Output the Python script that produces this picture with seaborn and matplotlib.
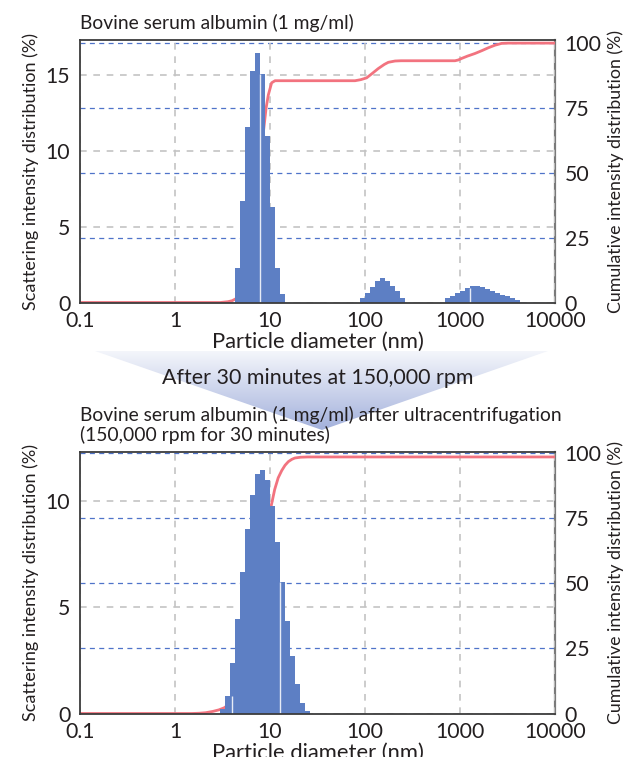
import numpy as np
import matplotlib
matplotlib.use("Agg")
import matplotlib.pyplot as plt
from matplotlib.patches import Polygon
from matplotlib.colors import LinearSegmentedColormap
import seaborn as sns

# ---- data -------------------------------------------------------------
# Size bins are logarithmic, 19 bins per decade; values are bin centres (nm)
BINS_PER_DECADE = 19

before_diam = [4.549, 5.135, 5.798, 6.545, 7.388, 8.340, 9.412, 10.63, 11.99, 13.54,
               94.12, 106.2, 119.9, 135.4, 152.8, 172.5, 194.8, 219.8, 248.1,
               738.8, 834.0, 941.2, 1063, 1199, 1354, 1528, 1725, 1948, 2198,
               2481, 2801, 3162, 3569, 4030]
before_int = [2.3, 6.7, 11.6, 15.3, 16.5, 15.1, 11.0, 6.3, 2.3, 0.56,
              0.28, 0.6, 1.04, 1.42, 1.6, 1.42, 1.09, 0.76, 0.28,
              0.29, 0.44, 0.62, 0.77, 0.95, 1.1, 1.1, 1.01, 0.9, 0.79,
              0.66, 0.51, 0.40, 0.29, 0.18]
before_cum_diam = [0.1, 3.0, 3.6, 4.0, 4.4, 4.8, 5.4, 6.1, 6.9, 7.9, 8.6, 9.1, 9.6,
                   10.4, 11.3, 78.5, 90, 104, 120, 138, 160, 176, 207, 240, 886,
                   960, 1042, 1200, 1438, 1700, 1986, 2336, 2748, 3200, 10000]
before_cum = [0, 0, 0.3, 0.7, 1.5, 4, 11, 24, 40, 56, 67, 75, 80,
              84.7, 85.5, 85.5, 85.9, 86.6, 88.4, 90.2, 91.8, 92.6, 93.1, 93.2, 93.2,
              93.5, 94.1, 95.0, 96.0, 97.1, 98.2, 99.2, 99.9, 100, 100]
before_seams = [7.943, 1259]

after_diam = [3.162, 3.569, 4.030, 4.549, 5.135, 5.798, 6.545, 7.388, 8.340,
              9.412, 10.63, 11.99, 13.54, 15.28, 17.25, 19.48, 21.98, 24.81]
after_int = [0.2, 0.84, 2.37, 4.46, 6.66, 8.7, 10.3, 11.3, 11.5,
             11.0, 9.8, 8.07, 6.19, 4.38, 2.71, 1.38, 0.51, 0.12]
after_cum_diam = [0.1, 1.5, 1.8, 2.1, 2.5, 2.9, 3.3, 3.8, 4.4, 5.0, 5.8, 6.6, 7.6,
                  8.6, 9.5, 10.2, 11.2, 12.2, 13.3, 14.4, 15.6, 17.0, 18.3, 21, 25, 10000]
after_cum = [0, 0, 0.1, 0.3, 0.8, 1.4, 2.2, 3.8, 6.5, 11, 19, 29, 43,
             58, 70, 79, 86, 90.5, 93.3, 95.3, 96.7, 97.6, 98.1, 98.4, 98.5, 98.5]
after_seams = [3.981, 12.59]

x_ticks = [0.1, 1, 10, 100, 1000, 10000]
x_ticklabels = ["0.1", "1", "10", "100", "1000", "10000"]
cum_ticks = [0, 25, 50, 75, 100]

title_before = "Bovine serum albumin (1 mg/ml)"
title_after = "Bovine serum albumin (1 mg/ml) after ultracentrifugation\n(150,000 rpm for 30 minutes)"
step_text = "After 30 minutes at 150,000 rpm"
xlabel = "Particle diameter (nm)"
ylabel_left = "Scattering intensity distribution (%)"
ylabel_right = "Cumulative intensity distribution (%)"

# ---- style ------------------------------------------------------------
sns.set_theme(style="white")
plt.rcParams["font.family"] = ["Lato", "DejaVu Sans"]
TEXT = "#231f20"
BAR = "#5d7fc4"
LINE = "#f2737f"
GRID_GRAY = "#c4c4c4"
GRID_BLUE = "#4f73c9"
SPINE = "#3c3c3c"
TICK_FS = 15.3

W, H = 630, 757
fig = plt.figure(figsize=(W / 100, H / 100), dpi=100)
fig.patch.set_facecolor("white")


def px_rect(x0, y0, x1, y1):
    return [x0 / W, 1 - y1 / H, (x1 - x0) / W, (y1 - y0) / H]


# background layer in pixel units for the arrow band and free text
bg = fig.add_axes([0, 0, 1, 1], zorder=0)
bg.axis("off")
band = Polygon([(95, 351), (548, 351), (322, 430)], closed=True,
               facecolor="none", edgecolor="none")
bg.add_patch(band)
cmap = LinearSegmentedColormap.from_list("band", ["#f4f6fb", "#a3b1dc"])
grad = np.linspace(0, 1, 256)[:, None]
im = bg.imshow(grad, cmap=cmap, extent=(95, 548, 430, 351), aspect="auto",
               interpolation="bilinear", zorder=1)
im.set_clip_path(band)
bg.set_xlim(0, W)
bg.set_ylim(H, 0)

bg.text(80, 23, title_before, fontsize=13.9, color=TEXT, va="center", ha="left", zorder=5)
bg.text(318, 378, step_text, fontsize=15.4, color=TEXT, va="center", ha="center", zorder=5)
bg.text(80, 425, title_after, fontsize=13.9, color=TEXT, va="center", ha="left",
        linespacing=1.15, zorder=5)

half = 10 ** (0.5 / BINS_PER_DECADE)


def draw_panel(rect, diam, inten, cum_d, cum_p, ymax, yticks, cum_top, seams):
    ax = fig.add_axes(rect, zorder=2)
    ax2 = ax.twinx()
    ax.set_zorder(ax2.get_zorder() + 1)
    ax.patch.set_visible(False)

    d = np.asarray(diam, dtype=float)
    v = np.asarray(inten, dtype=float)
    left = d / half
    right = d * half

    ax.set_xscale("log")
    ax.set_xlim(0.1, 10000)
    ax.set_ylim(0, ymax)
    ax2.set_ylim(0, cum_top)

    # grids: gray on the intensity scale, blue on the cumulative scale
    ax.set_axisbelow(True)
    ax.grid(True, axis="both", which="major", color=GRID_GRAY, ls=(0, (4, 4)), lw=1.2)
    ax2.grid(True, axis="y", color=GRID_BLUE, ls=(0, (4, 3.5)), lw=0.9)
    ax2.grid(False, axis="x")

    # cumulative curve in cumulative-axis units, drawn beneath the bars
    sns.lineplot(x=cum_d, y=cum_p, ax=ax, color=LINE, lw=2.0, sort=False,
                 estimator=None, transform=ax2.transData, zorder=1.5)

    ax.bar(left, v, width=right - left, align="edge", color=BAR,
           edgecolor="none", linewidth=0, zorder=2)

    # fine light seams between a few adjacent bars
    for s in seams:
        i_l = int(np.argmin(np.abs(np.log10(d) - np.log10(s / half))))
        i_r = int(np.argmin(np.abs(np.log10(d) - np.log10(s * half))))
        ax.vlines(s, 0, min(v[i_l], v[i_r]), color="white", lw=1.0, alpha=0.85, zorder=2.5)

    ax.set_xticks(x_ticks)
    ax.set_xticklabels(x_ticklabels)
    ax.xaxis.set_minor_locator(matplotlib.ticker.NullLocator())
    ax.set_yticks(yticks)
    ax.set_yticklabels([str(t) for t in yticks])
    ax2.set_yticks(cum_ticks)
    ax2.set_yticklabels([str(t) for t in cum_ticks])

    for a in (ax, ax2):
        a.tick_params(length=0, labelsize=TICK_FS, labelcolor=TEXT)
    ax.tick_params(axis="y", pad=7)
    ax.tick_params(axis="x", pad=6)
    ax2.tick_params(axis="y", pad=7)

    for name, sp in ax.spines.items():
        sp.set_visible(True)
        sp.set_color(SPINE)
        sp.set_linewidth(1.3)
    for name, sp in ax2.spines.items():
        sp.set_visible(name == "right")
        sp.set_color("#7a7a7a")
        sp.set_linewidth(1.6)
    ax.spines["right"].set_visible(False)

    ax.set_xlabel(xlabel, fontsize=15.8, color=TEXT, labelpad=0.5)
    ax.set_ylabel(ylabel_left, fontsize=13, color=TEXT, labelpad=5)
    ax2.set_ylabel(ylabel_right, fontsize=12.8, color=TEXT, labelpad=4, rotation=90)
    return ax, ax2


draw_panel(px_rect(80, 40, 555, 302.5), before_diam, before_int, before_cum_diam,
           before_cum, 17.33, [0, 5, 10, 15], 101.2, before_seams)
draw_panel(px_rect(80, 452, 555, 713.5), after_diam, after_int, after_cum_diam,
           after_cum, 12.33, [0, 5, 10], 100.4, after_seams)

fig.savefig("out.png", dpi=100, facecolor="white")
